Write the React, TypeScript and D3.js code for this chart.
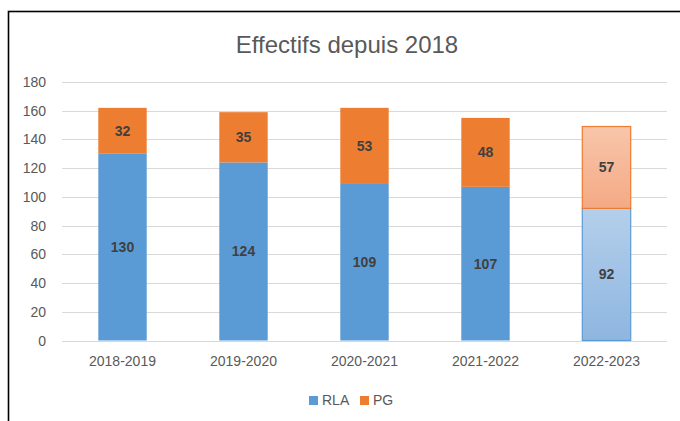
import React from 'react';
import * as d3 from 'd3';

const years = ['2018-2019', '2019-2020', '2020-2021', '2021-2022', '2022-2023'];
const rla = [130, 124, 109, 107, 92];
const pg = [32, 35, 53, 48, 57];
const yTicks = [0, 20, 40, 60, 80, 100, 120, 140, 160, 180];

const W = 680;
const H = 421;
const FONT = '"Liberation Sans", Arial, sans-serif';

const App = () => {
  const x = d3.scaleBand().domain(years).range([62, 667]).paddingInner(0.6).paddingOuter(0.3);
  const y = d3.scaleLinear().domain([0, 180]).range([340.5, 82]);

  const stack = d3
    .stack<number>()
    .keys(['RLA', 'PG'])
    .value((i, key) => (key === 'RLA' ? rla[i] : pg[i]));
  const series = stack(d3.range(years.length));

  const colors: Record<string, string> = { RLA: '#5B9BD5', PG: '#ED7D31' };
  const lastIdx = years.length - 1;

  return (
    <svg width={W} height={H} style={{ position: 'absolute', left: 0, top: 0 }}>
      <defs>
        <linearGradient id="gBlue" x1="0" y1="0" x2="0" y2="1">
          <stop offset="0" stopColor="#B4CFEB" />
          <stop offset="1" stopColor="#8EB6E0" />
        </linearGradient>
        <linearGradient id="gOrange" x1="0" y1="0" x2="0" y2="1">
          <stop offset="0" stopColor="#F8C6AA" />
          <stop offset="1" stopColor="#F4A985" />
        </linearGradient>
      </defs>
      <rect x={0} y={0} width={W} height={H} fill="#fff" />
      <rect x={8.5} y={11.5} width={700} height={500} fill="none" stroke="#000" strokeWidth={1.6} />

      <text x={347} y={53} textAnchor="middle" fontFamily={FONT} fontSize={24} fill="#595959">
        Effectifs depuis 2018
      </text>

      {yTicks.map((t) => (
        <g key={t}>
          <line x1={62} x2={667} y1={Math.round(y(t)) + 0.5} y2={Math.round(y(t)) + 0.5} stroke="#D9D9D9" strokeWidth={1} />
          <text x={46} y={y(t) + 5} textAnchor="end" fontFamily={FONT} fontSize={14} fill="#595959">
            {t}
          </text>
        </g>
      ))}

      {series.map((s) =>
        s.map((d, i) => {
          const bx = x(years[i])!;
          const y0 = y(d[0]);
          const y1 = y(d[1]);
          const val = d[1] - d[0];
          const last = i === lastIdx;
          return (
            <g key={s.key + i}>
              <rect
                x={bx}
                y={y1}
                width={x.bandwidth()}
                height={y0 - y1}
                fill={last ? (s.key === 'RLA' ? 'url(#gBlue)' : 'url(#gOrange)') : colors[s.key]}
                stroke={last ? colors[s.key] : 'none'}
                strokeWidth={last ? 1.2 : 0}
              />
              <text
                x={bx + x.bandwidth() / 2}
                y={(y0 + y1) / 2 + 5}
                textAnchor="middle"
                fontFamily={FONT}
                fontWeight="bold"
                fontSize={14}
                fill="#404040"
              >
                {val}
              </text>
            </g>
          );
        })
      )}

      {years.map((c) => (
        <text key={c} x={x(c)! + x.bandwidth() / 2} y={366} textAnchor="middle" fontFamily={FONT} fontSize={14} fill="#595959">
          {c}
        </text>
      ))}

      <rect x={309} y={396} width={9} height={9} fill={colors.RLA} />
      <text x={322} y={405} fontFamily={FONT} fontSize={14} fill="#595959">
        RLA
      </text>
      <rect x={360} y={396} width={9} height={9} fill={colors.PG} />
      <text x={373} y={405} fontFamily={FONT} fontSize={14} fill="#595959">
        PG
      </text>
    </svg>
  );
};

export default App;
